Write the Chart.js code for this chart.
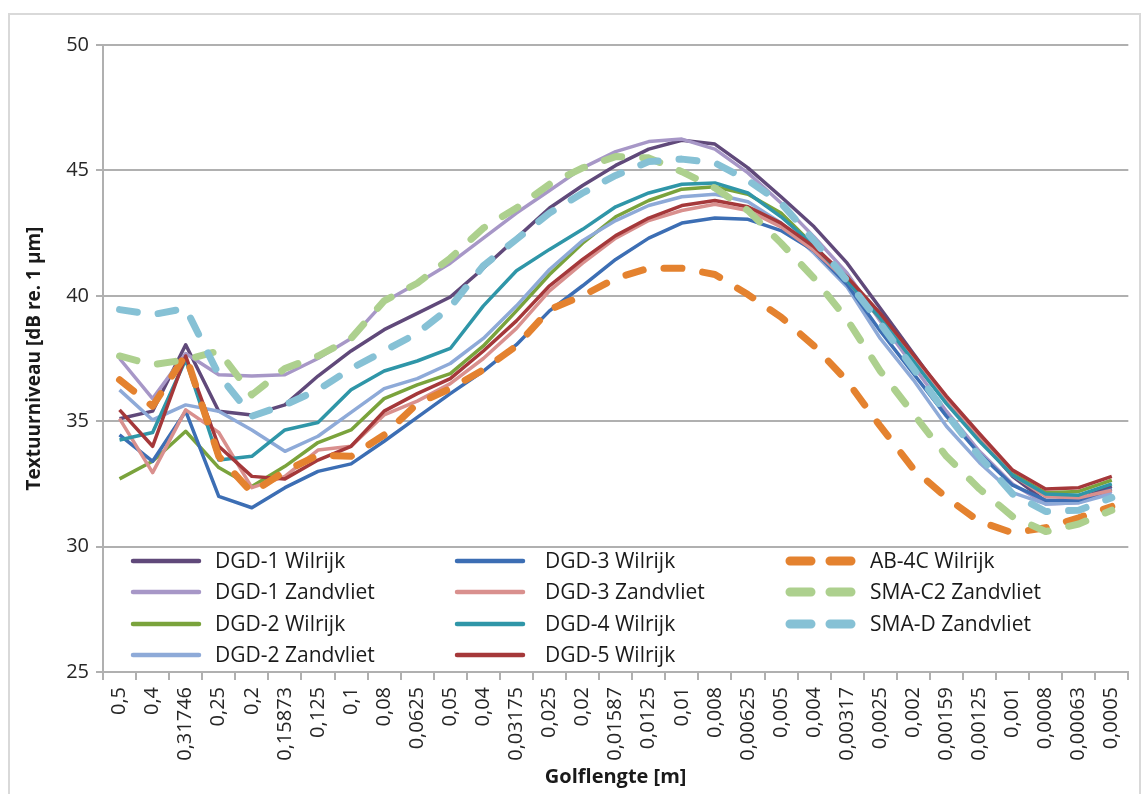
<!DOCTYPE html>
<html>
<head>
<meta charset="utf-8">
<script src="https://cdn.jsdelivr.net/npm/chart.js@4.4.0/dist/chart.umd.min.js"></script>
<style>
  html, body { margin: 0; padding: 0; background: #fff; }
  #wrap { position: relative; width: 1143px; height: 794px; overflow: hidden; }
  #frame { position: absolute; left: 8px; top: 13px; width: 1133px; height: 820px; border: 2px solid #d9d9d9; box-sizing: border-box; }
  canvas { position: absolute; left: 0; top: 0; }
</style>
</head>
<body>
<div id="wrap"><div id="frame"></div><canvas id="chart" width="1143" height="794"></canvas></div>
<script>
// wavelengths (m) on the x axis
const golflengte = ['0,5','0,4','0,31746','0,25','0,2','0,15873','0,125','0,1','0,08','0,0625','0,05','0,04',
  '0,03175','0,025','0,02','0,01587','0,0125','0,01','0,008','0,00625','0,005','0,004','0,00317','0,0025',
  '0,002','0,00159','0,00125','0,001','0,0008','0,00063','0,0005'];

// texture level per series [dB re. 1 µm]
const dgd1Wilrijk    = [35.1, 35.4, 38.05, 35.4, 35.25, 35.65, 36.8, 37.8, 38.65, 39.3, 39.95, 41.1, 42.3, 43.5, 44.4, 45.2, 45.85, 46.2, 46.05, 45.1, 43.95, 42.75, 41.3, 39.5, 37.7, 35.9, 34.3, 32.8, 31.8, 31.9, 32.4];
const dgd1Zandvliet  = [37.5, 35.9, 37.7, 36.85, 36.8, 36.85, 37.5, 38.3, 39.75, 40.5, 41.3, 42.3, 43.3, 44.2, 45.1, 45.75, 46.15, 46.25, 45.85, 44.9, 43.7, 42.35, 40.9, 39.0, 37.2, 35.4, 33.8, 32.5, 31.7, 31.75, 32.2];
const dgd2Wilrijk    = [32.7, 33.4, 34.6, 33.15, 32.4, 33.2, 34.15, 34.65, 35.9, 36.45, 36.9, 38.0, 39.4, 40.85, 42.1, 43.15, 43.8, 44.25, 44.35, 44.05, 43.3, 42.0, 40.6, 39.1, 37.45, 35.75, 34.3, 32.9, 32.15, 32.2, 32.65];
const dgd2Zandvliet  = [36.25, 35.05, 35.65, 35.4, 34.65, 33.8, 34.4, 35.35, 36.3, 36.7, 37.3, 38.3, 39.6, 41.05, 42.2, 43.0, 43.6, 43.95, 44.05, 43.75, 42.9, 41.7, 40.35, 38.3, 36.65, 34.8, 33.35, 32.15, 31.7, 31.75, 32.1];
const dgd3Wilrijk    = [34.45, 33.4, 35.4, 32.0, 31.55, 32.35, 33.0, 33.3, 34.2, 35.15, 36.1, 37.0, 38.05, 39.4, 40.4, 41.45, 42.3, 42.9, 43.1, 43.05, 42.6, 41.8, 40.45, 38.6, 36.9, 35.2, 33.7, 32.45, 31.85, 31.85, 32.3];
const dgd3Zandvliet  = [35.1, 32.95, 35.45, 34.55, 32.35, 32.8, 33.85, 34.0, 35.25, 35.8, 36.5, 37.5, 38.7, 40.2, 41.3, 42.3, 43.0, 43.4, 43.65, 43.4, 42.75, 41.8, 40.6, 39.1, 37.5, 35.8, 34.3, 32.85, 32.0, 31.95, 32.25];
const dgd4Wilrijk    = [34.25, 34.55, 37.45, 33.45, 33.6, 34.65, 34.95, 36.25, 37.0, 37.4, 37.9, 39.6, 41.0, 41.85, 42.65, 43.55, 44.1, 44.45, 44.5, 44.1, 43.15, 42.0, 40.6, 39.1, 37.4, 35.7, 34.2, 32.85, 32.1, 32.05, 32.5];
const dgd5Wilrijk    = [35.45, 34.0, 37.6, 34.0, 32.8, 32.7, 33.45, 34.0, 35.4, 36.1, 36.7, 37.8, 39.0, 40.4, 41.45, 42.4, 43.1, 43.6, 43.8, 43.55, 42.9, 41.95, 40.75, 39.3, 37.65, 36.0, 34.5, 33.05, 32.3, 32.35, 32.8];
const ab4cWilrijk    = [36.65, 35.6, 37.65, 33.6, 32.15, 33.0, 33.65, 33.6, 34.45, 35.7, 36.3, 37.05, 38.0, 39.45, 40.0, 40.7, 41.1, 41.1, 40.85, 40.05, 39.15, 38.0, 36.6, 34.8, 33.1, 31.95, 31.0, 30.55, 30.75, 31.15, 31.6];
const smaC2Zandvliet = [37.6, 37.25, 37.45, 37.8, 36.05, 37.1, 37.6, 38.3, 39.8, 40.5, 41.5, 42.7, 43.5, 44.45, 45.1, 45.55, 45.5, 44.95, 44.3, 43.4, 42.1, 40.7, 39.05, 37.0, 35.3, 33.6, 32.3, 31.2, 30.6, 30.9, 31.45];
const smaDZandvliet  = [39.45, 39.25, 39.5, 36.85, 35.2, 35.65, 36.25, 37.1, 37.8, 38.5, 39.55, 41.2, 42.25, 43.3, 44.1, 44.8, 45.35, 45.45, 45.3, 44.6, 43.7, 42.2, 40.6, 38.9, 37.1, 35.3, 33.6, 32.1, 31.4, 31.45, 31.95];

const seriesNames = ['DGD-1 Wilrijk','DGD-1 Zandvliet','DGD-2 Wilrijk','DGD-2 Zandvliet','DGD-3 Wilrijk',
  'DGD-3 Zandvliet','DGD-4 Wilrijk','DGD-5 Wilrijk','AB-4C Wilrijk','SMA-C2 Zandvliet','SMA-D Zandvliet'];
const seriesData = [dgd1Wilrijk, dgd1Zandvliet, dgd2Wilrijk, dgd2Zandvliet, dgd3Wilrijk,
  dgd3Zandvliet, dgd4Wilrijk, dgd5Wilrijk, ab4cWilrijk, smaC2Zandvliet, smaDZandvliet];
const yTicks = [25, 30, 35, 40, 45, 50];

const colors = ['#60497a','#a797c7','#7aa33c','#8eaad8','#3c6eb4','#d9908e','#2f96a8','#a5383a','#e4822f','#add08e','#86c1d5'];
const dashed = [false, false, false, false, false, false, false, false, true, true, true];

const FONT = 'Open Sans';
const GRID = '#b0b0b0';
const INK = '#1a1a1a';

let datasets = seriesData.map((d, i) => ({
  label: seriesNames[i],
  data: d,
  borderColor: colors[i],
  backgroundColor: colors[i],
  borderWidth: dashed[i] ? 7 : 3.5,
  borderDash: dashed[i] ? [18, 21] : [],
  borderCapStyle: dashed[i] ? 'round' : 'butt',
  borderJoinStyle: 'round',
  pointRadius: 0,
  tension: 0,
  fill: false,
  order: seriesData.length - 1 - i
}));

// legend drawn inside the plot area, three columns like the original
const legendInside = {
  id: 'legendInside',
  afterDraw(chart) {
    const ctx = chart.ctx;
    const lineX = [133, 457, 785];
    const textX = [215, 545, 870];
    const rowY = [561, 592, 624, 655];
    ctx.save();
    ctx.font = '21px "' + FONT + '"';
    ctx.textBaseline = 'middle';
    ctx.fillStyle = INK;
    chart.data.datasets.forEach((ds, i) => {
      const col = i < 8 ? Math.floor(i / 4) : 2;
      const row = i < 8 ? i % 4 : i - 8;
      const x = lineX[col], y = rowY[row];
      ctx.strokeStyle = ds.borderColor;
      ctx.beginPath();
      if (dashed[i]) {
        ctx.lineWidth = 9;
        ctx.lineCap = 'round';
        ctx.moveTo(x + 5, y); ctx.lineTo(x + 26, y);
        ctx.moveTo(x + 45, y); ctx.lineTo(x + 66, y);
      } else {
        ctx.lineWidth = 4.5;
        ctx.lineCap = 'round';
        ctx.moveTo(x, y); ctx.lineTo(x + 66, y);
      }
      ctx.stroke();
      ctx.fillText(ds.label, textX[col], y + 1);
    });
    ctx.restore();
  }
};

new Chart(document.getElementById('chart'), {
  type: 'line',
  data: { labels: golflengte, datasets: datasets },
  plugins: [legendInside],
  options: {
    responsive: false,
    animation: false,
    layout: { padding: { left: 0, right: 13, top: 45, bottom: 0 } },
    plugins: { legend: { display: false }, tooltip: { enabled: false } },
    scales: {
      x: {
        offset: true,
        grid: { drawOnChartArea: false, drawTicks: true, tickLength: 8, offset: true, color: GRID, lineWidth: 2 },
        border: { display: true, color: GRID, width: 2 },
        ticks: { autoSkip: false, minRotation: 90, maxRotation: 90, padding: 7, color: '#262626',
                 font: { family: FONT, size: 20 } },
        title: { display: true, text: 'Golflengte [m]', color: INK,
                 font: { family: FONT, size: 20, weight: 'bold' }, padding: { top: 0, bottom: 5 } },
        afterFit: s => { s.height = 122; }
      },
      y: {
        min: 25, max: 50,
        afterBuildTicks: s => { s.ticks = yTicks.map(v => ({ value: v })); },
        grid: { color: GRID, lineWidth: 2, drawTicks: true, tickLength: 7 },
        border: { display: true, color: GRID, width: 2 },
        ticks: { padding: 7, color: '#262626', font: { family: FONT, size: 20 } },
        title: { display: true, text: 'Textuurniveau [dB re. 1 µm]', color: INK,
                 font: { family: FONT, size: 19, weight: 'bold' }, padding: { top: 23, bottom: 0 } },
        afterFit: s => { s.width = 103; }
      }
    }
  }
});
</script>
</body>
</html>
